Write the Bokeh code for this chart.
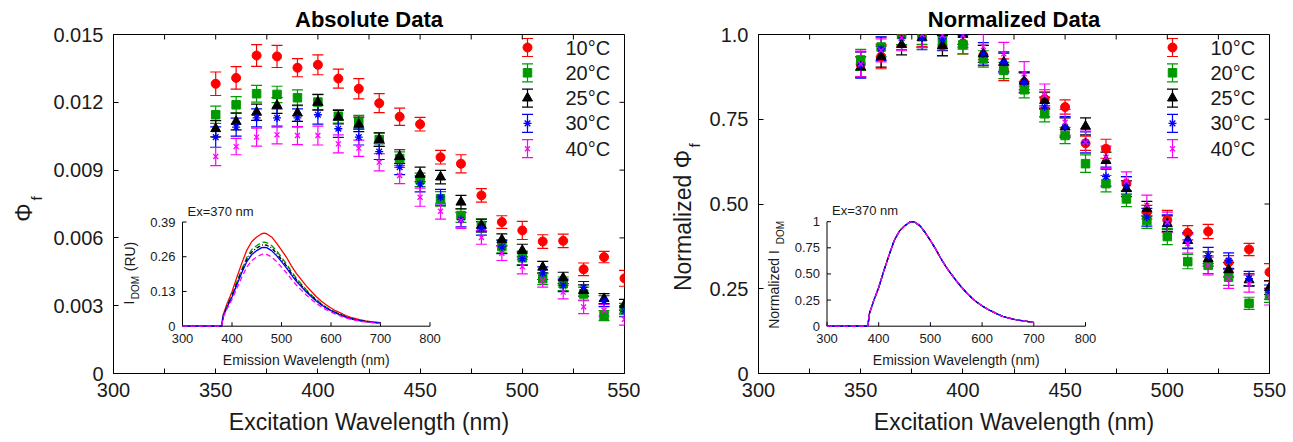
from math import pi
from bokeh.plotting import figure
from bokeh.models import (ColumnDataSource, Whisker, TeeHead, Label, FixedTicker, Range1d)
from bokeh.layouts import row
from bokeh.embed import file_html
from bokeh.resources import INLINE
from bokeh.core.properties import value

# ---------------- data ----------------
excitation_nm = [350, 360, 370, 380, 390, 400, 410, 420, 430, 440, 450,
                 460, 470, 480, 490, 500, 510, 520, 530, 540, 550]
temperatures = ["10°C", "20°C", "25°C", "30°C", "40°C"]

abs_10C = [0.01282, 0.01308, 0.01407, 0.01403, 0.01353, 0.01366, 0.01305, 0.01260, 0.01196, 0.01136, 0.01103,
           0.00957, 0.00928, 0.00788, 0.00670, 0.00633, 0.00584, 0.00587, 0.00461, 0.00515, 0.00421]
abs_20C = [0.01145, 0.01189, 0.01238, 0.01235, 0.01220, 0.01201, 0.01138, 0.01112, 0.01035, 0.00951, 0.00857,
           0.00773, 0.00699, 0.00655, 0.00562, 0.00512, 0.00419, 0.00397, 0.00352, 0.00256, 0.00285]
abs_25C = [0.01083, 0.01115, 0.01156, 0.01186, 0.01152, 0.01200, 0.01134, 0.01102, 0.01035, 0.00960, 0.00881,
           0.00869, 0.00758, 0.00655, 0.00592, 0.00544, 0.00470, 0.00423, 0.00367, 0.00331, 0.00304]
abs_30C = [0.01046, 0.01090, 0.01131, 0.01131, 0.01131, 0.01145, 0.01083, 0.01046, 0.00982, 0.00913, 0.00839,
           0.00780, 0.00681, 0.00642, 0.00560, 0.00508, 0.00444, 0.00390, 0.00381, 0.00320, 0.00275]
abs_40C = [0.00960, 0.01004, 0.01046, 0.01056, 0.01053, 0.01053, 0.01016, 0.00997, 0.00935, 0.00876, 0.00780,
           0.00718, 0.00677, 0.00602, 0.00532, 0.00473, 0.00412, 0.00360, 0.00295, 0.00280, 0.00240]

abs_err_10C = [0.00052, 0.00050, 0.00048, 0.00049, 0.00040, 0.00044, 0.00042, 0.00045, 0.00042, 0.00038, 0.00030,
               0.00030, 0.00040, 0.00030, 0.00028, 0.00040, 0.00030, 0.00030, 0.00028, 0.00025, 0.00035]
abs_err_20C = [0.00038, 0.00036, 0.00037, 0.00036, 0.00035, 0.00033, 0.00030, 0.00030, 0.00030, 0.00030, 0.00030,
               0.00032, 0.00030, 0.00028, 0.00028, 0.00030, 0.00026, 0.00030, 0.00030, 0.00022, 0.00025]
abs_err_25C = [0.00036, 0.00037, 0.00036, 0.00035, 0.00036, 0.00035, 0.00030, 0.00032, 0.00030, 0.00030, 0.00032,
               0.00030, 0.00030, 0.00028, 0.00026, 0.00028, 0.00026, 0.00025, 0.00025, 0.00022, 0.00024]
abs_err_30C = [0.00045, 0.00040, 0.00040, 0.00040, 0.00040, 0.00042, 0.00038, 0.00035, 0.00035, 0.00033, 0.00035,
               0.00035, 0.00032, 0.00030, 0.00030, 0.00030, 0.00028, 0.00028, 0.00026, 0.00024, 0.00024]
abs_err_40C = [0.00040, 0.00036, 0.00040, 0.00040, 0.00040, 0.00042, 0.00040, 0.00036, 0.00038, 0.00036, 0.00040,
               0.00035, 0.00035, 0.00030, 0.00032, 0.00032, 0.00030, 0.00030, 0.00030, 0.00026, 0.00026]

norm_10C = [0.912, 0.935, 1.000, 1.000, 0.967, 0.974, 0.938, 0.896, 0.859, 0.810, 0.786,
            0.679, 0.663, 0.560, 0.476, 0.453, 0.415, 0.419, 0.328, 0.366, 0.299]
norm_20C = [0.925, 0.963, 1.000, 1.000, 0.982, 0.970, 0.928, 0.894, 0.837, 0.766, 0.702,
            0.619, 0.560, 0.515, 0.451, 0.404, 0.330, 0.319, 0.284, 0.207, 0.230]
norm_25C = [0.904, 0.935, 0.970, 0.990, 0.967, 1.000, 0.943, 0.918, 0.862, 0.805, 0.727,
            0.729, 0.628, 0.545, 0.486, 0.442, 0.392, 0.338, 0.306, 0.276, 0.253]
norm_30C = [0.910, 0.958, 0.990, 0.990, 0.987, 1.000, 0.943, 0.918, 0.859, 0.786, 0.727,
            0.682, 0.581, 0.555, 0.461, 0.442, 0.392, 0.348, 0.333, 0.280, 0.240]
norm_40C = [0.913, 0.953, 0.990, 1.000, 0.997, 0.997, 0.964, 0.943, 0.884, 0.820, 0.741,
            0.682, 0.638, 0.567, 0.496, 0.446, 0.383, 0.319, 0.279, 0.265, 0.227]

norm_err_10C = [0.037, 0.036, 0.034, 0.035, 0.029, 0.031, 0.030, 0.032, 0.030, 0.027, 0.021,
                0.021, 0.028, 0.021, 0.020, 0.028, 0.021, 0.021, 0.020, 0.018, 0.025]
norm_err_20C = [0.031, 0.029, 0.030, 0.029, 0.028, 0.027, 0.024, 0.024, 0.024, 0.024, 0.024,
                0.026, 0.024, 0.023, 0.023, 0.024, 0.021, 0.024, 0.024, 0.018, 0.020]
norm_err_25C = [0.030, 0.031, 0.030, 0.029, 0.030, 0.029, 0.025, 0.027, 0.025, 0.025, 0.027,
                0.025, 0.025, 0.023, 0.022, 0.023, 0.022, 0.021, 0.021, 0.018, 0.020]
norm_err_30C = [0.039, 0.035, 0.035, 0.035, 0.035, 0.037, 0.033, 0.031, 0.031, 0.029, 0.031,
                0.031, 0.028, 0.026, 0.026, 0.026, 0.024, 0.024, 0.023, 0.021, 0.021]
norm_err_40C = [0.038, 0.034, 0.038, 0.038, 0.038, 0.040, 0.038, 0.034, 0.036, 0.034, 0.038,
                0.033, 0.033, 0.028, 0.030, 0.030, 0.028, 0.028, 0.028, 0.025, 0.025]

# inset: emission spectra at Ex = 370 nm
emission_nm = [300, 379, 382, 390, 400, 410, 420, 430, 440, 450, 460, 465, 470, 480, 490, 500, 510, 520,
               530, 540, 550, 560, 570, 580, 590, 600, 610, 620, 630, 640, 650, 660, 670, 680, 690, 700]
idom_10C = [0, 0, 0.042, 0.084, 0.129, 0.184, 0.237, 0.285, 0.317, 0.334, 0.346, 0.348, 0.346, 0.334, 0.311,
            0.285, 0.258, 0.226, 0.198, 0.174, 0.151, 0.131, 0.111, 0.094, 0.080, 0.068, 0.057, 0.049, 0.040,
            0.033, 0.028, 0.024, 0.020, 0.017, 0.015, 0.013]
idom_20C = [0, 0, 0.038, 0.076, 0.117, 0.167, 0.214, 0.258, 0.287, 0.302, 0.313, 0.315, 0.313, 0.302, 0.282,
            0.258, 0.233, 0.205, 0.180, 0.158, 0.137, 0.118, 0.101, 0.085, 0.072, 0.061, 0.052, 0.044, 0.036,
            0.030, 0.025, 0.021, 0.018, 0.016, 0.014, 0.012]
idom_25C = [0, 0, 0.037, 0.073, 0.113, 0.162, 0.207, 0.250, 0.278, 0.293, 0.303, 0.305, 0.303, 0.293, 0.273,
            0.250, 0.226, 0.198, 0.174, 0.153, 0.133, 0.114, 0.098, 0.082, 0.070, 0.059, 0.050, 0.043, 0.035,
            0.029, 0.024, 0.021, 0.018, 0.015, 0.013, 0.011]
idom_30C = [0, 0, 0.035, 0.071, 0.109, 0.156, 0.201, 0.242, 0.268, 0.283, 0.294, 0.295, 0.294, 0.283, 0.264,
            0.242, 0.218, 0.192, 0.168, 0.148, 0.128, 0.111, 0.094, 0.080, 0.068, 0.058, 0.049, 0.041, 0.034,
            0.028, 0.024, 0.020, 0.017, 0.015, 0.013, 0.011]
idom_40C = [0, 0, 0.032, 0.065, 0.100, 0.143, 0.184, 0.221, 0.246, 0.259, 0.269, 0.270, 0.269, 0.259, 0.242,
            0.221, 0.200, 0.176, 0.154, 0.135, 0.117, 0.101, 0.086, 0.073, 0.062, 0.053, 0.045, 0.038, 0.031,
            0.026, 0.022, 0.018, 0.016, 0.014, 0.012, 0.010]
idom_norm = [0, 0, 0.12, 0.24, 0.37, 0.53, 0.68, 0.82, 0.91, 0.96, 0.995, 1.0, 0.995, 0.96, 0.895,
             0.82, 0.74, 0.65, 0.57, 0.50, 0.435, 0.375, 0.32, 0.27, 0.23, 0.195, 0.165, 0.14, 0.115,
             0.095, 0.08, 0.068, 0.058, 0.05, 0.043, 0.037]

# ticks / labels
x_ticks = [300, 325, 350, 375, 400, 425, 450, 475, 500, 525, 550]
x_tick_labels = {300: "300", 325: "", 350: "350", 375: "", 400: "400", 425: "",
                 450: "450", 475: "", 500: "500", 525: "", 550: "550"}
abs_y_ticks = [0, 0.003, 0.006, 0.009, 0.012, 0.015]
abs_y_labels = {0: "0", 0.003: "0.003", 0.006: "0.006", 0.009: "0.009", 0.012: "0.012", 0.015: "0.015"}
norm_y_ticks = [0, 0.25, 0.5, 0.75, 1.0]
norm_y_labels = {0: "0", 0.25: "0.25", 0.5: "0.50", 0.75: "0.75", 1.0: "1.0"}
inset_x_ticks = [300, 400, 500, 600, 700, 800]
inset_x_labels = ["300", "400", "500", "600", "700", "800"]
inset_abs_y_ticks = [0, 0.13, 0.26, 0.39]
inset_abs_y_labels = ["0", "0.13", "0.26", "0.39"]
inset_norm_y_ticks = [0, 0.25, 0.5, 0.75, 1.0]
inset_norm_y_labels = ["0", "0.25", "0.50", "0.75", "1"]

# ---------------- styles / layout ----------------
FONT = "Liberation Sans"
PAGE_H = 441
FW, FH = 511, 339
FRAME_TOP, FRAME_BOTTOM = 34, 373          # page y of the frames
COLORS = ["#ff0000", "#009a00", "#000000", "#0000ff", "#ff00ff"]
MARKERS = ["circle", "square", "triangle", "asterisk", "x"]
SIZES = [9, 8.5, 10, 8, 7]
DASHES = ["solid", "6 3", "4 2 1 2", "solid", "5 3"]
TXT = "#1a1a1a"
# legend layout (pixels inside the frame, measured from its top-left corner)
LEG_X, LEG_TEXT_X, LEG_TOP, LEG_STEP, LEG_BAR = 414, 452, 13, 25.3, 9


def frame_label(p, frame_left, px, py, text, size, angle=0.0):
    # text inside a frame, given in page pixels
    p.add_layout(Label(x=px - frame_left, y=FRAME_BOTTOM - py, x_units="screen", y_units="screen",
                       text=text, text_font=FONT, text_font_size=f"{size}px", text_align="center",
                       text_baseline="middle", angle=angle, text_color=TXT))


def inset_range(v0, v1, p0, p1, total):
    s = (v1 - v0) / (p1 - p0)
    return Range1d(v0 - p0 * s, v0 + (total - p0) * s)


def style_axis(ax, standoff):
    ax.axis_line_color = "black"
    ax.axis_line_width = 1
    ax.major_tick_in = 5
    ax.major_tick_out = 0
    ax.minor_tick_in = 0
    ax.minor_tick_out = 0
    ax.major_tick_line_color = "black"
    ax.major_label_text_font = FONT
    ax.major_label_text_color = TXT
    ax.major_label_text_font_size = "20px"
    ax.major_label_standoff = standoff


def add_errorbars(p, src, c, **kw):
    p.add_layout(Whisker(source=src, base="x", lower="lo", upper="hi", line_color=c, line_width=1.2,
                         upper_head=TeeHead(size=11, line_color=c, line_width=1.2),
                         lower_head=TeeHead(size=11, line_color=c, line_width=1.2), **kw))


def label_strip(width, page_x0, texts):
    """A narrow figure whose frame has the same vertical extent as the panels;
    it only carries the rotated y-axis titles (given in page pixels)."""
    f = figure(frame_width=width, frame_height=FH, min_border_left=0, min_border_right=0,
               min_border_top=FRAME_TOP, min_border_bottom=PAGE_H - FRAME_BOTTOM,
               x_range=Range1d(page_x0, page_x0 + width), y_range=Range1d(FRAME_BOTTOM, FRAME_TOP),
               x_axis_type=None, y_axis_type=None, output_backend="svg",
               toolbar_location=None, tools="", title=None)
    f.outline_line_color = None
    f.grid.visible = False
    f.background_fill_color = "white"
    f.border_fill_color = "white"
    for x, y, t, size in texts:
        f.text(x=[x], y=[y], text=[t], angle=pi / 2, text_align="center", text_baseline="middle",
               text_font=value(FONT), text_font_size=f"{size}px", text_color=TXT)
    return f


def make_panel(border_left, border_right, ys, errs, y_end, y_ticks, y_labels, title,
               inset_curves, inset_y_ticks, inset_y_labels, inset_px):
    p = figure(frame_width=FW, frame_height=FH, min_border_left=border_left, min_border_right=border_right,
               min_border_top=FRAME_TOP, min_border_bottom=PAGE_H - FRAME_BOTTOM,
               x_range=Range1d(300, 550), y_range=Range1d(0, y_end),
               output_backend="svg", toolbar_location=None, tools="")
    p.background_fill_color = "white"
    p.border_fill_color = "white"
    p.outline_line_color = "black"
    p.outline_line_width = 1
    p.grid.visible = False

    p.title.text = title
    p.title.align = "center"
    p.title.text_font = FONT
    p.title.text_font_size = "22px"
    p.title.text_font_style = "bold"
    p.title.text_color = "black"
    p.title.standoff = 6

    xa = p.xaxis[0]
    xa.ticker = FixedTicker(ticks=x_ticks)
    xa.major_label_overrides = x_tick_labels
    style_axis(xa, 9)
    xa.axis_label = "Excitation Wavelength (nm)"
    xa.axis_label_text_font = FONT
    xa.axis_label_text_font_size = "23px"
    xa.axis_label_text_font_style = "normal"
    xa.axis_label_text_color = TXT
    xa.axis_label_standoff = 9

    ya = p.yaxis[0]
    ya.ticker = FixedTicker(ticks=y_ticks)
    ya.major_label_overrides = y_labels
    style_axis(ya, 10)

    # inward ticks on the top and right edges of the box
    p.ray(x=x_ticks, y=[y_end] * len(x_ticks), length=5, angle=-pi / 2, length_units="screen",
          line_color="black", line_width=1)
    p.ray(x=[x_ticks[-1]] * len(y_ticks), y=y_ticks, length=5, angle=pi, length_units="screen",
          line_color="black", line_width=1)

    # data with error bars
    for y, e, c, m, s in zip(ys, errs, COLORS, MARKERS, SIZES):
        src = ColumnDataSource(dict(x=excitation_nm, y=y,
                                    lo=[a - b for a, b in zip(y, e)],
                                    hi=[a + b for a, b in zip(y, e)]))
        add_errorbars(p, src, c)
        p.scatter("x", "y", source=src, marker=m, size=s, fill_color=c, line_color=c,
                  line_width=1.3 if m in ("asterisk", "x") else 1)

    # legend (marker with its error bar, then the label), placed in frame-pixel coordinates
    p.extra_x_ranges = {"lgx": Range1d(0, FW)}
    p.extra_y_ranges = {"lgy": Range1d(FH, 0)}
    lkw = dict(x_range_name="lgx", y_range_name="lgy")
    rows = [LEG_TOP + i * LEG_STEP for i in range(len(temperatures))]
    for yr, c, m, s in zip(rows, COLORS, MARKERS, SIZES):
        lsrc = ColumnDataSource(dict(x=[LEG_X], y=[yr], lo=[yr - LEG_BAR], hi=[yr + LEG_BAR]))
        add_errorbars(p, lsrc, c, **lkw)
        p.scatter("x", "y", source=lsrc, marker=m, size=s, fill_color=c, line_color=c,
                  line_width=1.3 if m in ("asterisk", "x") else 1, **lkw)
    p.text(x=[LEG_TEXT_X] * len(rows), y=rows, text=temperatures, text_align="left",
           text_baseline="middle", text_font=value(FONT), text_font_size="20px",
           text_color=TXT, **lkw)

    # inset, drawn through extra ranges mapped onto a sub-area of the frame
    ix0, ix1, iy0, iy1 = inset_px
    ytop = inset_y_ticks[-1]
    p.extra_x_ranges["ix"] = inset_range(inset_x_ticks[0], inset_x_ticks[-1], ix0, ix1, FW)
    p.extra_y_ranges["iy"] = inset_range(0, ytop, iy0, iy1, FH)
    kw = dict(x_range_name="ix", y_range_name="iy")
    p.segment(x0=[inset_x_ticks[0], inset_x_ticks[0]], y0=[0, 0],
              x1=[inset_x_ticks[-1], inset_x_ticks[0]], y1=[0, ytop],
              line_color="black", line_width=1, **kw)
    p.ray(x=inset_x_ticks, y=[0] * len(inset_x_ticks), length=4, angle=pi / 2,
          length_units="screen", line_color="black", line_width=1, **kw)
    p.ray(x=[inset_x_ticks[0]] * len(inset_y_ticks), y=inset_y_ticks, length=4, angle=0,
          length_units="screen", line_color="black", line_width=1, **kw)
    p.text(x=inset_x_ticks, y=[0] * len(inset_x_ticks), text=inset_x_labels, y_offset=8,
           text_align="center", text_baseline="top", text_font=value(FONT),
           text_font_size="13px", text_color=TXT, **kw)
    p.text(x=[inset_x_ticks[0]] * len(inset_y_ticks), y=inset_y_ticks, text=inset_y_labels,
           x_offset=-7, text_align="right", text_baseline="middle", text_font=value(FONT),
           text_font_size="13px", text_color=TXT, **kw)
    p.text(x=[(inset_x_ticks[0] + inset_x_ticks[-1]) / 2], y=[0], text=["Emission Wavelength (nm)"],
           y_offset=34, text_align="center", text_baseline="middle", text_font=value(FONT),
           text_font_size="14px", text_color=TXT, **kw)
    p.text(x=[inset_x_ticks[0]], y=[ytop], text=["Ex=370 nm"], x_offset=5, y_offset=-11,
           text_align="left", text_baseline="middle", text_font=value(FONT),
           text_font_size="13px", text_color=TXT, **kw)
    for yc, c, d in zip(inset_curves, COLORS, DASHES):
        p.line(x=emission_nm, y=yc, line_color=c, line_width=1.3, line_dash=d, **kw)
    return p


# page layout: [strip 0-48][left figure 48-640][strip 640-706][right figure 706-1289]
strip_left = label_strip(48, 0, [(23.5, 212, "Φ", 23), (36, 198, "f", 15)])
left = make_panel(65, 16, [abs_10C, abs_20C, abs_25C, abs_30C, abs_40C],
                  [abs_err_10C, abs_err_20C, abs_err_25C, abs_err_30C, abs_err_40C],
                  0.015, abs_y_ticks, abs_y_labels, "Absolute Data",
                  [idom_10C, idom_20C, idom_25C, idom_30C, idom_40C],
                  inset_abs_y_ticks, inset_abs_y_labels, (69, 316.5, 47.3, 151.5))
frame_label(left, 113, 128.5, 302, "I", 14, angle=pi / 2)
frame_label(left, 113, 134.5, 287, "DOM", 10, angle=pi / 2)
frame_label(left, 113, 129.5, 256, "(RU)", 14, angle=pi / 2)

strip_right = label_strip(66, 640, [(682, 220, "Normalized Φ", 23), (694, 145, "f", 15)])
right = make_panel(52, 20, [norm_10C, norm_20C, norm_25C, norm_30C, norm_40C],
                   [norm_err_10C, norm_err_20C, norm_err_25C, norm_err_30C, norm_err_40C],
                   1.0, norm_y_ticks, norm_y_labels, "Normalized Data",
                   [idom_norm] * 5, inset_norm_y_ticks, inset_norm_y_labels, (68.5, 327, 47.3, 151.8))
frame_label(right, 758, 773, 289, "Normalized I", 14, angle=pi / 2)
frame_label(right, 758, 779.5, 232, "DOM", 10, angle=pi / 2)

layout = row(strip_left, left, strip_right, right)
open("out.html", "w").write(file_html(layout, INLINE))
